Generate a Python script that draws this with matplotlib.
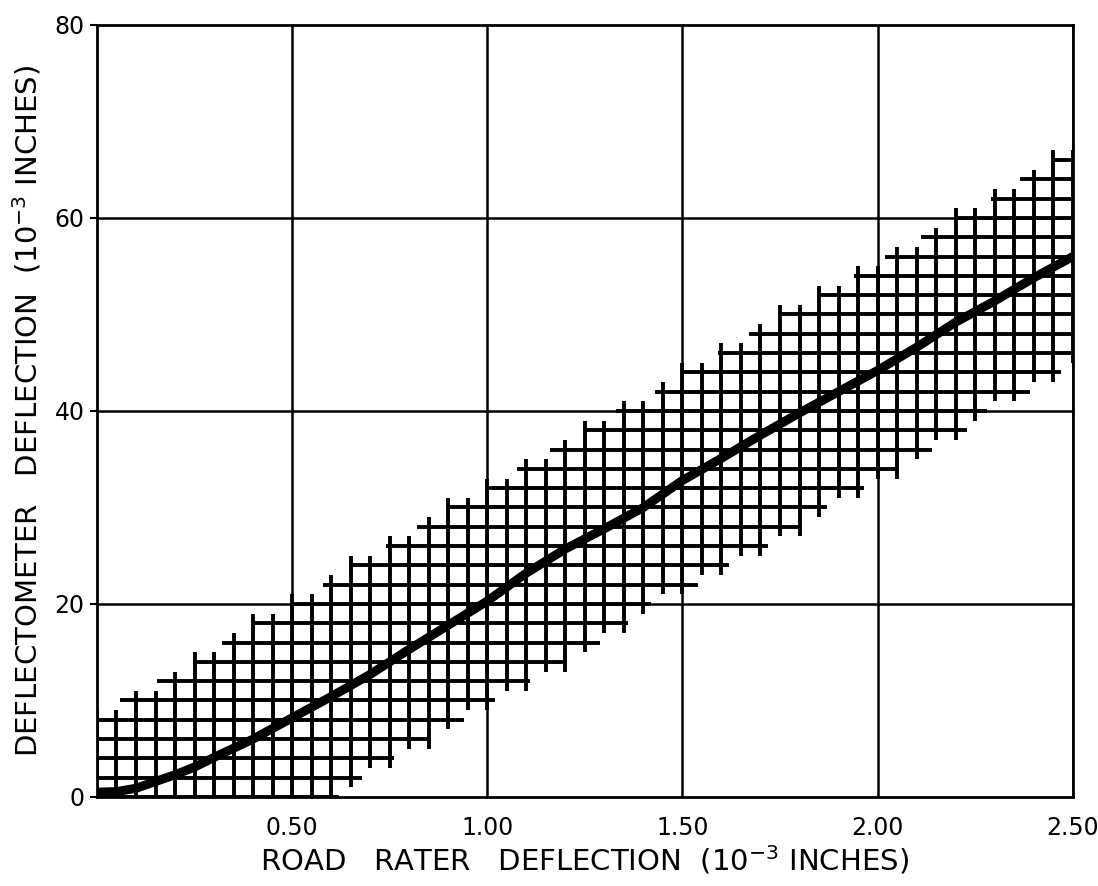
import numpy as np
import matplotlib
matplotlib.use("Agg")
import matplotlib.pyplot as plt

# ---- courbe moyenne
rr_defl = [0.0, 0.05, 0.10, 0.15, 0.20, 0.25, 0.30, 0.40, 0.50, 0.60, 0.70, 0.80,
           0.90, 1.00, 1.10, 1.20, 1.30, 1.40, 1.50, 1.60, 1.70, 1.80, 1.90, 2.00,
           2.10, 2.20, 2.30, 2.40, 2.50]
dm_defl = [0.5, 0.55, 0.9, 1.6, 2.3, 3.1, 4.1, 6.0, 8.2, 10.4, 12.7, 15.3,
           17.8, 20.3, 23.2, 25.7, 27.8, 30.0, 32.8, 35.1, 37.5, 39.8, 42.0, 44.2,
           46.6, 49.2, 51.4, 53.8, 56.0]

# ---- bande hachuree : pour chaque niveau horizontal, debut et fin du trait
band_levels = [0, 2, 4, 6, 8, 10, 12, 14, 16, 18, 20, 22, 24, 26, 28, 30, 32,
               34, 36, 38, 40, 42, 44, 46, 48, 50, 52, 54, 56, 58, 60, 62, 64, 66]
band_left = [0.0, 0.0, 0.0, 0.0, 0.0, 0.06, 0.155, 0.245, 0.32, 0.40, 0.50,
             0.58, 0.65, 0.74, 0.82, 0.90, 1.00, 1.075, 1.16, 1.25, 1.33, 1.43,
             1.50, 1.59, 1.67, 1.75, 1.85, 1.94, 2.02, 2.11, 2.20, 2.29, 2.365, 2.45]
band_right = [0.62, 0.68, 0.76, 0.85, 0.94, 1.02, 1.11, 1.20, 1.29, 1.36, 1.42,
              1.54, 1.62, 1.72, 1.80, 1.87, 1.965, 2.05, 2.14, 2.23, 2.28, 2.39,
              2.47, 2.5, 2.5, 2.5, 2.5, 2.5, 2.5, 2.5, 2.5, 2.5, 2.5, 2.5]

x_ticks = [0.5, 1.0, 1.5, 2.0, 2.5]
x_ticklabels = ["0.50", "1.00", "1.50", "2.00", "2.50"]
y_ticks = [0, 20, 40, 60, 80]

# -------------------------- #

fig = plt.figure(figsize=(10.98, 8.86), dpi=100)
ax = fig.add_axes([0.0883, 0.1005, 0.8887, 0.8713])
ax.set_xlim(0, 2.5)
ax.set_ylim(0, 80)

# grille principale
for xv in x_ticks:
    ax.axvline(xv, color="black", lw=1.8, zorder=1)
for yv in y_ticks[1:-1]:
    ax.axhline(yv, color="black", lw=1.8, zorder=1)

# bande : traits horizontaux
lev = np.array(band_levels, dtype=float)
left = np.array(band_left)
right = np.array(band_right)
ax.hlines(lev, left, right, color="black", lw=2.8, zorder=2)

# bande : traits verticaux (pas de 0.05), qui depassent un peu
poke = 1.0
for xv in np.round(np.arange(0, 2.5001, 0.05), 2):
    top = lev[left <= xv + 0.001]
    bot = lev[right >= xv - 0.001]
    if len(top) == 0 or len(bot) == 0:
        continue
    ax.vlines(xv, bot.min() - poke, top.max() + poke, color="black", lw=2.8, zorder=2)

# courbe moyenne
ax.plot(rr_defl, dm_defl, color="black", lw=6.5, solid_capstyle="round", zorder=3)

for s in ax.spines.values():
    s.set_linewidth(2.0)

ax.set_xticks(x_ticks)
ax.set_xticklabels(x_ticklabels)
ax.set_yticks(y_ticks)
ax.tick_params(axis="x", length=0, pad=14, labelsize=17)
ax.tick_params(axis="y", length=5, width=1.5, pad=4, labelsize=17)

ax.set_xlabel("ROAD   RATER   DEFLECTION  (10$^{-3}$ INCHES)", fontsize=21, labelpad=2)
ax.set_ylabel("DEFLECTOMETER   DEFLECTION  (10$^{-3}$ INCHES)", fontsize=21, labelpad=8)

fig.savefig("out.png", dpi=100)
